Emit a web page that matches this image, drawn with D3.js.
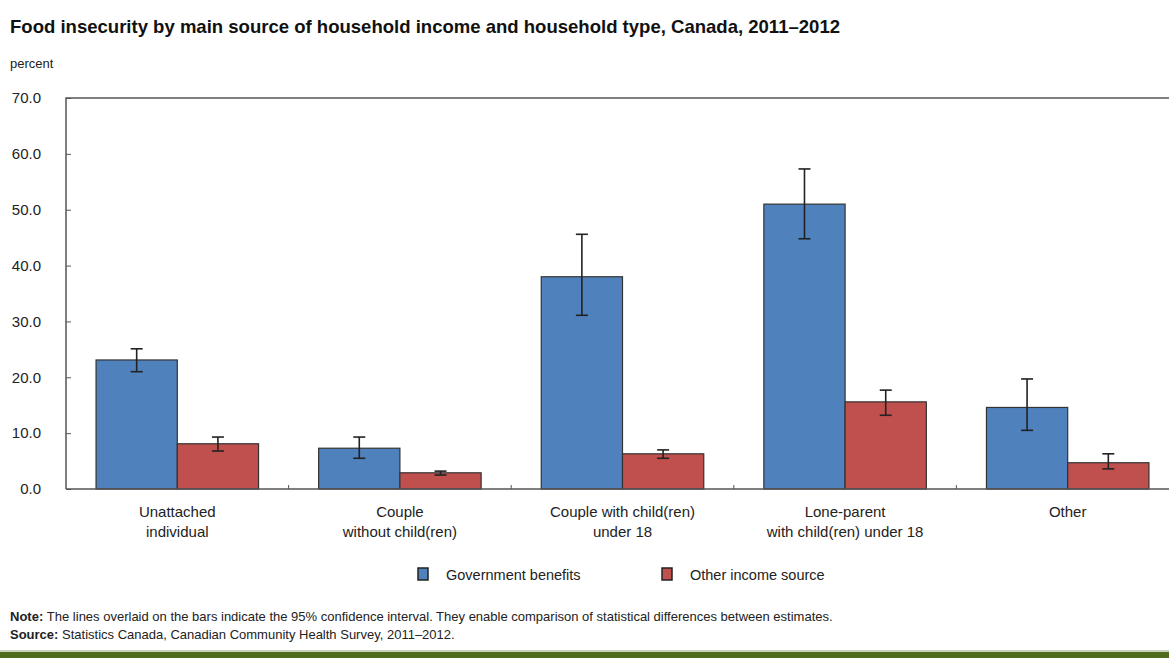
<!DOCTYPE html>
<html>
<head>
<meta charset="utf-8">
<script src="https://cdnjs.cloudflare.com/ajax/libs/d3/7.8.5/d3.min.js"></script>
<style>
  body { margin: 0; background: #fff; }
  svg { display: block; font-family: "Liberation Sans Narrow", "Arial Narrow", "Liberation Sans", Arial, sans-serif; }
  .title { font-weight: bold; font-size: 18.5px; fill: #111; }
  .small { font-size: 13px; fill: #222; }
</style>
</head>
<body>
<script>
const width = 1169;
const height = 658;

// data
const categories = [
  ["Unattached", "individual"],
  ["Couple", "without child(ren)"],
  ["Couple with child(ren)", "under 18"],
  ["Lone-parent", "with child(ren) under 18"],
  ["Other"]
];
const seriesNames = ["Government benefits", "Other income source"];
const govValues = [23.1, 7.3, 38.0, 51.0, 14.6];
const govLow = [21.0, 5.5, 31.1, 44.8, 10.5];
const govHigh = [25.1, 9.3, 45.6, 57.3, 19.7];
const otherValues = [8.1, 2.9, 6.3, 15.6, 4.7];
const otherLow = [6.8, 2.5, 5.5, 13.2, 3.6];
const otherHigh = [9.3, 3.2, 7.0, 17.7, 6.3];
const yTicks = [0, 10, 20, 30, 40, 50, 60, 70];
const colors = ["#4f81bd", "#c0504d"];

const margin = { top: 98, left: 66, bottom: 489 };
const plotRight = 1179;

const svg = d3
  .select("body")
  .append("svg")
  .attr("width", width)
  .attr("height", height);

svg.append("text")
  .attr("class", "title")
  .attr("x", 10)
  .attr("y", 33)
  .attr("textLength", 830)
  .attr("lengthAdjust", "spacingAndGlyphs")
  .text("Food insecurity by main source of household income and household type, Canada, 2011\u20132012");

svg.append("text")
  .attr("class", "small")
  .attr("x", 10)
  .attr("y", 68)
  .text("percent");

const x0 = d3.scaleBand()
  .domain(d3.range(categories.length))
  .range([margin.left, plotRight])
  .paddingInner(0.27)
  .paddingOuter(0.135);

const x1 = d3.scaleBand()
  .domain([0, 1])
  .range([0, x0.bandwidth()]);

const y = d3.scaleLinear()
  .domain([0, 70])
  .range([margin.bottom, margin.top]);

// frame
svg.append("path")
  .attr("d", `M${margin.left},${margin.bottom}V${margin.top}H${width + 5}`)
  .attr("fill", "none")
  .attr("stroke", "#555")
  .attr("stroke-width", 1.5);

// y axis
const yAxis = svg.append("g")
  .attr("transform", `translate(${margin.left},0)`)
  .call(d3.axisRight(y).tickValues(yTicks).tickSize(5).tickFormat(d3.format(".1f")));
yAxis.select(".domain").remove();
yAxis.selectAll("line").attr("stroke", "#555");
yAxis.selectAll("text")
  .attr("x", -25)
  .attr("text-anchor", "end")
  .style("font-size", "15px")
  .style("font-family", "inherit")
  .attr("fill", "#222");

const series = [
  { values: govValues, low: govLow, high: govHigh },
  { values: otherValues, low: otherLow, high: otherHigh }
];

series.forEach((s, si) => {
  const g = svg.append("g");
  g.selectAll("rect")
    .data(s.values)
    .join("rect")
    .attr("x", (d, i) => x0(i) + x1(si))
    .attr("y", d => y(d))
    .attr("width", x1.bandwidth())
    .attr("height", d => y(0) - y(d))
    .attr("fill", colors[si])
    .attr("stroke", "#333")
    .attr("stroke-width", 1.2);

  const err = svg.append("g")
    .attr("stroke", "#222")
    .attr("stroke-width", 1.6);
  s.values.forEach((d, i) => {
    const cx = x0(i) + x1(si) + x1.bandwidth() / 2;
    err.append("line")
      .attr("x1", cx).attr("x2", cx)
      .attr("y1", y(s.low[i])).attr("y2", y(s.high[i]));
    [s.low[i], s.high[i]].forEach(v => {
      err.append("line")
        .attr("x1", cx - 6).attr("x2", cx + 6)
        .attr("y1", y(v)).attr("y2", y(v));
    });
  });
});

// x axis line and separators
svg.append("line")
  .attr("x1", margin.left).attr("x2", width)
  .attr("y1", y(0)).attr("y2", y(0))
  .attr("stroke", "#555")
  .attr("stroke-width", 1.5);

svg.append("g")
  .selectAll("line")
  .data(d3.range(1, categories.length))
  .join("line")
  .attr("x1", i => x0(i) - x0.step() * x0.paddingInner() / 2)
  .attr("x2", i => x0(i) - x0.step() * x0.paddingInner() / 2)
  .attr("y1", y(0))
  .attr("y2", y(0) - 4)
  .attr("stroke", "#555");

// category labels
const labels = svg.append("g")
  .selectAll("text")
  .data(categories)
  .join("text")
  .attr("class", "small")
  .style("font-size", "15px")
  .attr("text-anchor", "middle")
  .attr("x", (d, i) => x0(i) + x0.bandwidth() / 2)
  .attr("y", 517);
labels.each(function(d) {
  const t = d3.select(this);
  d.forEach((line, k) => {
    t.append("tspan")
      .attr("x", t.attr("x"))
      .attr("dy", k === 0 ? 0 : 20)
      .text(line);
  });
});

// legend
const legendX = [418, 662];
seriesNames.forEach((name, i) => {
  svg.append("rect")
    .attr("x", legendX[i])
    .attr("y", 568)
    .attr("width", 10)
    .attr("height", 12)
    .attr("fill", colors[i])
    .attr("stroke", "#222")
    .attr("stroke-width", 1.5);
  svg.append("text")
    .attr("class", "small")
    .style("font-size", "14.5px")
    .attr("x", legendX[i] + 28)
    .attr("y", 580)
    .text(name);
});

// notes
const note = svg.append("text")
  .attr("class", "small")
  .attr("x", 10)
  .attr("y", 621);
note.append("tspan").attr("font-weight", "bold").text("Note: ");
note.append("tspan").text("The lines overlaid on the bars indicate the 95% confidence interval. They enable comparison of statistical differences between estimates.");

const source = svg.append("text")
  .attr("class", "small")
  .attr("x", 10)
  .attr("y", 639);
source.append("tspan").attr("font-weight", "bold").text("Source: ");
source.append("tspan").text("Statistics Canada, Canadian Community Health Survey, 2011\u20132012.");

svg.append("rect")
  .attr("x", 0).attr("y", 650)
  .attr("width", width).attr("height", 2)
  .attr("fill", "#c9d1bd");
svg.append("rect")
  .attr("x", 0).attr("y", 652)
  .attr("width", width).attr("height", 6)
  .attr("fill", "#4f6b1c");
</script>
</body>
</html>
